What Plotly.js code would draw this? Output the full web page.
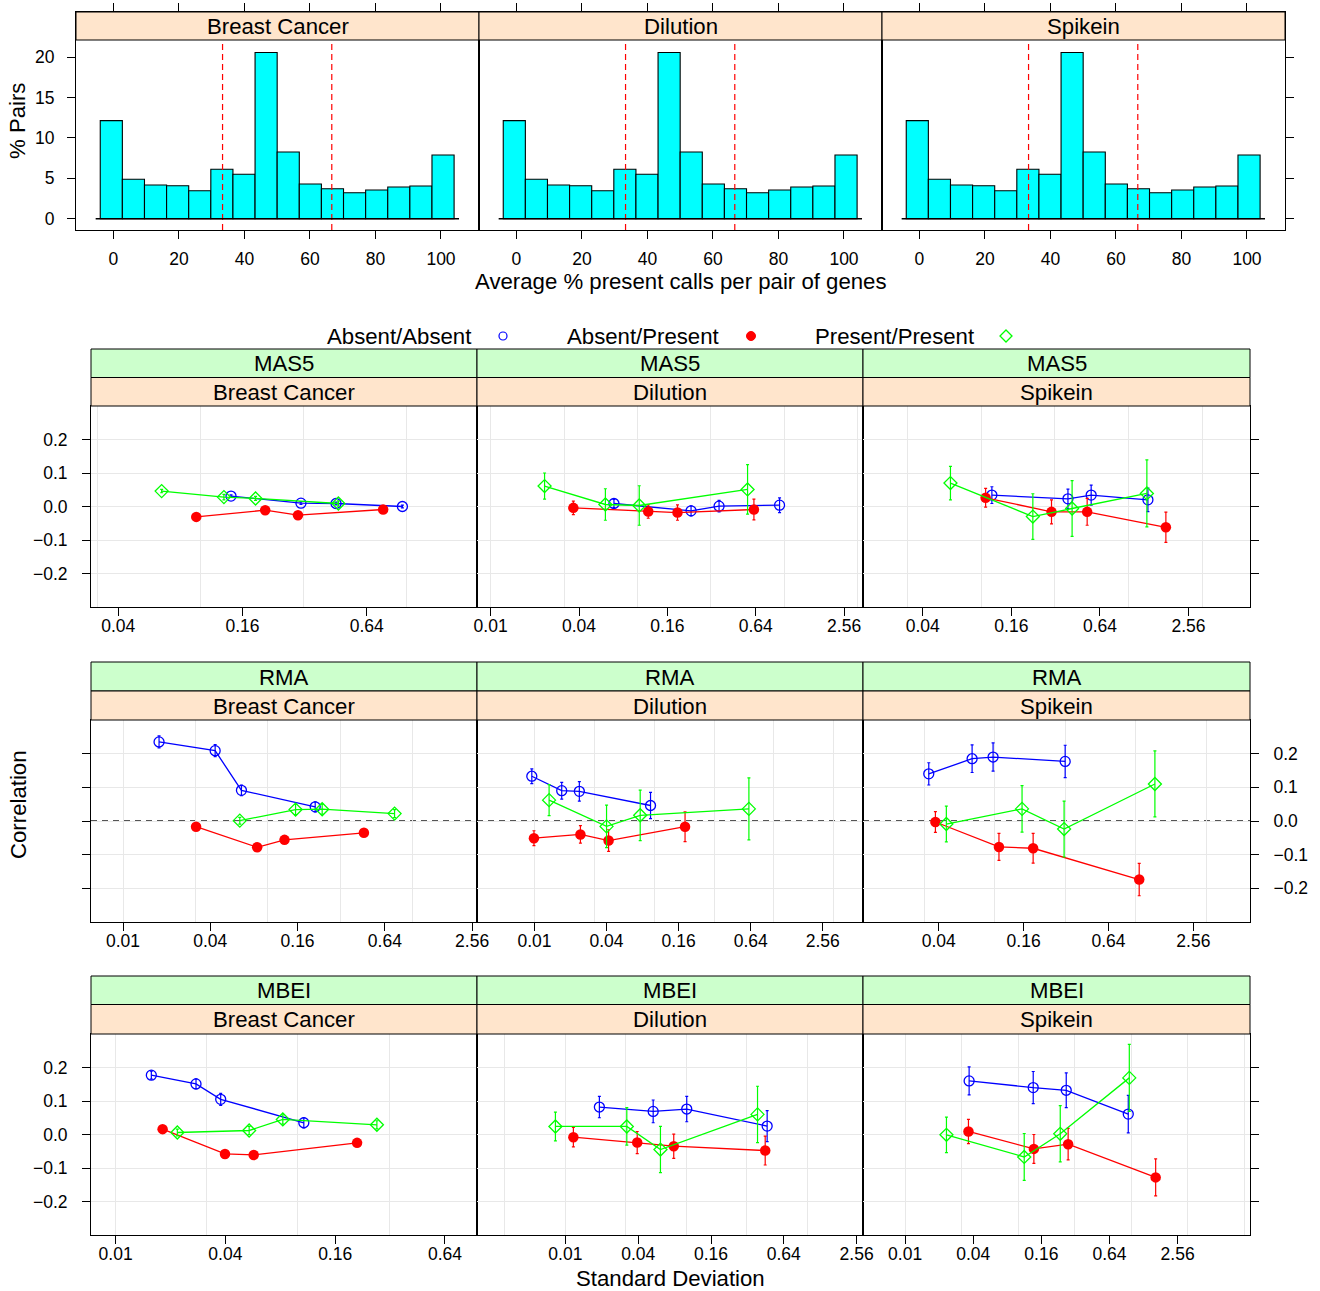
<!DOCTYPE html>
<html><head><meta charset="utf-8">
<script src="https://cdn.plot.ly/plotly-3.0.1.min.js"></script>
<style>html,body{margin:0;padding:0;background:#fff}#chart{width:1320px;height:1291px}</style>
</head><body><div id="chart"></div>
<script>
// ---------------- DATA ----------------
const histPct = [12.15, 4.88, 4.17, 4.09, 3.47, 6.12, 5.50, 20.6, 8.26, 4.30, 3.72, 3.22, 3.55, 3.93, 4.05, 7.89];
const histStart = -4, histBinWidth = 6.75;
const histCuts = [33.33, 66.67];
const histXTicks = [0, 20, 40, 60, 80, 100];
const histYTicks = [0, 5, 10, 15, 20];

const datasets = ['Breast Cancer', 'Dilution', 'Spikein'];
const methods = ['MAS5', 'RMA', 'MBEI'];
const groups = ['Absent/Absent', 'Absent/Present', 'Present/Present'];

const corrTicks = [-0.2, -0.1, 0, 0.1, 0.2];
const corrTickText = ['\u22120.2', '\u22120.1', '0.0', '0.1', '0.2'];
const sdTicks = [0.01, 0.04, 0.16, 0.64, 2.56];
const sdTickText = ['0.01', '0.04', '0.16', '0.64', '2.56'];

// MAS5 - Breast Cancer
const mas5BcAASd = [0.1407, 0.307, 0.454, 0.952];
const mas5BcAAR = [0.031, 0.010, 0.009, 0.000];
const mas5BcAAErr = [0.004, 0.004, 0.004, 0.004];
const mas5BcAPSd = [0.0955, 0.206, 0.297, 0.768];
const mas5BcAPR = [-0.031, -0.011, -0.026, -0.009];
const mas5BcAPErr = [0.003, 0.003, 0.003, 0.003];
const mas5BcPPSd = [0.0649, 0.130, 0.185, 0.466];
const mas5BcPPR = [0.046, 0.028, 0.024, 0.009];
const mas5BcPPErr = [0.005, 0.008, 0.006, 0.008];
// MAS5 - Dilution
const mas5DiAASd = [0.0692, 0.232, 0.360, 0.93];
const mas5DiAAR = [0.009, -0.013, 0.001, 0.004];
const mas5DiAAErr = [0.012, 0.015, 0.017, 0.022];
const mas5DiAPSd = [0.0366, 0.1185, 0.1875, 0.622];
const mas5DiAPR = [-0.004, -0.015, -0.018, -0.009];
const mas5DiAPErr = [0.020, 0.020, 0.023, 0.031];
const mas5DiPPSd = [0.0233, 0.0605, 0.1029, 0.563];
const mas5DiPPR = [0.061, 0.006, 0.003, 0.051];
const mas5DiPPErr = [0.039, 0.047, 0.059, 0.074];
// MAS5 - Spikein
const mas5SpAASd = [0.118, 0.388, 0.558, 1.356];
const mas5SpAAR = [0.034, 0.023, 0.034, 0.020];
const mas5SpAAErr = [0.025, 0.029, 0.030, 0.035];
const mas5SpAPSd = [0.107, 0.300, 0.524, 1.796];
const mas5SpAPR = [0.026, -0.016, -0.016, -0.062];
const mas5SpAPErr = [0.028, 0.036, 0.040, 0.045];
const mas5SpPPSd = [0.0617, 0.224, 0.414, 1.334];
const mas5SpPPR = [0.070, -0.030, -0.006, 0.039];
const mas5SpPPErr = [0.050, 0.068, 0.083, 0.100];
// RMA - Breast Cancer
const rmaBcAASd = [0.01772, 0.0432, 0.0656, 0.2117];
const rmaBcAAR = [0.235, 0.209, 0.091, 0.042];
const rmaBcAAErr = [0.018, 0.018, 0.016, 0.015];
const rmaBcAPSd = [0.0319, 0.0842, 0.130, 0.459];
const rmaBcAPR = [-0.017, -0.078, -0.056, -0.035];
const rmaBcAPErr = [0.008, 0.006, 0.006, 0.006];
const rmaBcPPSd = [0.0639, 0.155, 0.2365, 0.747];
const rmaBcPPR = [0.001, 0.034, 0.035, 0.022];
const rmaBcPPErr = [0.010, 0.015, 0.015, 0.012];
// RMA - Dilution
const rmaDiAASd = [0.0095, 0.01689, 0.0237, 0.0932];
const rmaDiAAR = [0.133, 0.090, 0.088, 0.046];
const rmaDiAAErr = [0.022, 0.025, 0.029, 0.039];
const rmaDiAPSd = [0.0099, 0.0242, 0.0416, 0.181];
const rmaDiAPR = [-0.051, -0.040, -0.058, -0.017];
const rmaDiAPErr = [0.022, 0.026, 0.032, 0.044];
const rmaDiPPSd = [0.01325, 0.040, 0.0764, 0.618];
const rmaDiPPR = [0.062, -0.016, 0.017, 0.036];
const rmaDiPPErr = [0.046, 0.063, 0.075, 0.092];
// RMA - Spikein
const rmaSpAASd = [0.034, 0.069, 0.0972, 0.3155];
const rmaSpAAR = [0.140, 0.185, 0.190, 0.177];
const rmaSpAAErr = [0.033, 0.041, 0.042, 0.048];
const rmaSpAPSd = [0.0379, 0.107, 0.187, 1.057];
const rmaSpAPR = [-0.003, -0.077, -0.081, -0.174];
const rmaSpAPErr = [0.031, 0.040, 0.044, 0.048];
const rmaSpPPSd = [0.0453, 0.156, 0.310, 1.366];
const rmaSpPPR = [-0.009, 0.036, -0.024, 0.110];
const rmaSpPPErr = [0.053, 0.069, 0.083, 0.098];
// MBEI - Breast Cancer
const mbeiBcAASd = [0.0157, 0.0276, 0.0377, 0.1077];
const mbeiBcAAR = [0.177, 0.151, 0.105, 0.035];
const mbeiBcAAErr = [0.012, 0.015, 0.018, 0.015];
const mbeiBcAPSd = [0.0181, 0.0398, 0.0572, 0.211];
const mbeiBcAPR = [0.016, -0.058, -0.061, -0.025];
const mbeiBcAPErr = [0.008, 0.006, 0.006, 0.006];
const mbeiBcPPSd = [0.0218, 0.054, 0.0826, 0.271];
const mbeiBcPPR = [0.006, 0.012, 0.045, 0.029];
const mbeiBcPPErr = [0.010, 0.012, 0.014, 0.012];
// MBEI - Dilution
const mbeiDiAASd = [0.0191, 0.0532, 0.1008, 0.466];
const mbeiDiAAR = [0.082, 0.069, 0.076, 0.025];
const mbeiDiAAErr = [0.032, 0.034, 0.038, 0.046];
const mbeiDiAPSd = [0.01164, 0.03925, 0.0787, 0.449];
const mbeiDiAPR = [-0.008, -0.024, -0.035, -0.048];
const mbeiDiAPErr = [0.029, 0.033, 0.036, 0.043];
const mbeiDiPPSd = [0.00827, 0.0322, 0.0611, 0.388];
const mbeiDiPPR = [0.024, 0.024, -0.045, 0.060];
const mbeiDiPPErr = [0.043, 0.056, 0.069, 0.084];
// MBEI - Spikein
const mbeiSpAASd = [0.0368, 0.1356, 0.2655, 0.938];
const mbeiSpAAR = [0.160, 0.140, 0.132, 0.061];
const mbeiSpAAErr = [0.042, 0.048, 0.052, 0.056];
const mbeiSpAPSd = [0.0363, 0.1374, 0.276, 1.638];
const mbeiSpAPR = [0.009, -0.043, -0.029, -0.128];
const mbeiSpAPErr = [0.036, 0.043, 0.047, 0.055];
const mbeiSpPPSd = [0.0232, 0.1129, 0.235, 0.958];
const mbeiSpPPR = [-0.001, -0.067, 0.002, 0.169];
const mbeiSpPPErr = [0.053, 0.070, 0.084, 0.100];

// ---------------- BUILD ----------------
const panelData = [
  [[[mas5BcAASd, mas5BcAAR, mas5BcAAErr], [mas5BcAPSd, mas5BcAPR, mas5BcAPErr], [mas5BcPPSd, mas5BcPPR, mas5BcPPErr]],
   [[mas5DiAASd, mas5DiAAR, mas5DiAAErr], [mas5DiAPSd, mas5DiAPR, mas5DiAPErr], [mas5DiPPSd, mas5DiPPR, mas5DiPPErr]],
   [[mas5SpAASd, mas5SpAAR, mas5SpAAErr], [mas5SpAPSd, mas5SpAPR, mas5SpAPErr], [mas5SpPPSd, mas5SpPPR, mas5SpPPErr]]],
  [[[rmaBcAASd, rmaBcAAR, rmaBcAAErr], [rmaBcAPSd, rmaBcAPR, rmaBcAPErr], [rmaBcPPSd, rmaBcPPR, rmaBcPPErr]],
   [[rmaDiAASd, rmaDiAAR, rmaDiAAErr], [rmaDiAPSd, rmaDiAPR, rmaDiAPErr], [rmaDiPPSd, rmaDiPPR, rmaDiPPErr]],
   [[rmaSpAASd, rmaSpAAR, rmaSpAAErr], [rmaSpAPSd, rmaSpAPR, rmaSpAPErr], [rmaSpPPSd, rmaSpPPR, rmaSpPPErr]]],
  [[[mbeiBcAASd, mbeiBcAAR, mbeiBcAAErr], [mbeiBcAPSd, mbeiBcAPR, mbeiBcAPErr], [mbeiBcPPSd, mbeiBcPPR, mbeiBcPPErr]],
   [[mbeiDiAASd, mbeiDiAAR, mbeiDiAAErr], [mbeiDiAPSd, mbeiDiAPR, mbeiDiAPErr], [mbeiDiPPSd, mbeiDiPPR, mbeiDiPPErr]],
   [[mbeiSpAASd, mbeiSpAAR, mbeiSpAAErr], [mbeiSpAPSd, mbeiSpAPR, mbeiSpAPErr], [mbeiSpPPSd, mbeiSpPPR, mbeiSpPPErr]]]
];

const W = 1320, H = 1291;
const FONT = 'Liberation Sans, Arial, Helvetica, sans-serif';
const BIG = 22.2;
const fx = x => x / W;
const fy = y => 1 - y / H;
const axKey = (l, n) => l + 'axis' + (n === 1 ? '' : n);
const axRef = (l, n) => l + (n === 1 ? '' : n);

const TICKFONT = {family: FONT, size: 17.5, color: '#000'};
const GRIDCOL = '#e8e8e8';
const groupColors = ['#0000ff', '#ff0000', '#00ff00'];
const groupSymbols = ['circle-open', 'circle', 'diamond-open'];
const groupSizes = [10, 10.5, 10];
const sdGrid = [-6, -5, -4, -3, -2, -1, 0, 1, 2].map(k => Math.pow(10, k / 2));

const traces = [];
const layout = {
  width: W, height: H, margin: {l: 0, r: 0, t: 0, b: 0},
  paper_bgcolor: '#ffffff', plot_bgcolor: 'rgba(0,0,0,0)', showlegend: false,
  font: {family: FONT, size: 18, color: '#000'},
  shapes: [], annotations: []
};

function text(t, x, y, size, opts) {
  layout.annotations.push(Object.assign({
    text: t, x: fx(x), y: fy(y), xref: 'paper', yref: 'paper', showarrow: false,
    xanchor: 'center', yanchor: 'middle', font: {family: FONT, size: size, color: '#000'}
  }, opts || {}));
}
function strip(x0, x1, y0, y1, fill, label) {
  layout.shapes.push({type: 'rect', xref: 'paper', yref: 'paper', x0: fx(x0), x1: fx(x1), y0: fy(y1), y1: fy(y0),
    fillcolor: fill, line: {color: '#000', width: 1}, layer: 'above'});
  text(label, (x0 + x1) / 2, (y0 + y1) / 2 + 0.5, BIG);
}

// ---- top histograms ----
const histL = [76, 479, 882], histR = [479, 882, 1285];
const histCenters = histPct.map((_, i) => histStart + histBinWidth * (i + 0.5));
const histEnd = histStart + histBinWidth * histPct.length;
for (let c = 0; c < 3; c++) {
  const n = c + 1;
  traces.push({type: 'bar', x: histCenters, y: histPct, width: histBinWidth,
    marker: {color: '#00ffff', line: {color: '#000', width: 1.1}},
    xaxis: axRef('x', n), yaxis: axRef('y', n), hoverinfo: 'skip'});
  layout[axKey('x', n)] = {domain: [fx(histL[c]), fx(histR[c])], anchor: axRef('y', n),
    range: [-11.4, 111.6], tickmode: 'array', tickvals: histXTicks, ticks: 'outside', ticklen: 8,
    tickcolor: '#000', tickwidth: 1, showline: true, linecolor: '#000', linewidth: 1, mirror: 'ticks',
    showgrid: false, zeroline: false, tickfont: TICKFONT, ticklabelstandoff: 5, fixedrange: true};
  layout[axKey('y', n)] = {domain: [fy(230), fy(12)], anchor: axRef('x', n),
    range: [-1.40, 25.61], tickmode: 'array', tickvals: histYTicks,
    ticks: (c === 1 ? '' : 'outside'), ticklen: 8, tickcolor: '#000', side: (c === 2 ? 'right' : 'left'),
    showticklabels: c === 0, showline: true, linecolor: '#000', linewidth: 1, mirror: true,
    showgrid: false, zeroline: false, tickfont: TICKFONT, ticklabelstandoff: 9, fixedrange: true};
  histCuts.forEach(v => layout.shapes.push({type: 'line', xref: axRef('x', n), yref: 'paper',
    x0: v, x1: v, y0: fy(230), y1: fy(40), line: {color: '#ff0000', width: 1.2, dash: '6px,4px'}}));
  layout.shapes.push({type: 'line', xref: axRef('x', n), yref: axRef('y', n),
    x0: histStart - 1.4, x1: histEnd + 1.5, y0: 0, y1: 0, line: {color: '#000', width: 1.6}});
  strip(histL[c], histR[c], 12, 40, '#ffe5cc', datasets[c]);
}
text('% Pairs', 18, 121, BIG, {textangle: -90});
text('Average % present calls per pair of genes', 681, 281, BIG);

// ---- legend ----
text(groups[0], 473, 336, BIG, {xanchor: 'right'});
text(groups[1], 721, 336, BIG, {xanchor: 'right'});
text(groups[2], 976, 336, BIG, {xanchor: 'right'});
layout.shapes.push({type: 'circle', xref: 'paper', yref: 'paper', x0: fx(499), x1: fx(507), y0: fy(340), y1: fy(332),
  line: {color: groupColors[0], width: 1.2}, fillcolor: 'rgba(0,0,0,0)'});
layout.shapes.push({type: 'circle', xref: 'paper', yref: 'paper', x0: fx(746.5), x1: fx(755.5), y0: fy(340.5), y1: fy(331.5),
  line: {color: groupColors[1], width: 1}, fillcolor: groupColors[1]});
layout.shapes.push({type: 'path', xref: 'paper', yref: 'paper',
  path: `M ${fx(1006)} ${fy(330)} L ${fx(1012)} ${fy(336)} L ${fx(1006)} ${fy(342)} L ${fx(1000)} ${fy(336)} Z`,
  line: {color: groupColors[2], width: 1.3}, fillcolor: 'rgba(0,0,0,0)'});

// ---- correlation panels ----
const colL = [91, 477, 863], colR = [477, 863, 1250];
const rowTop = [406, 720, 1034], rowBot = [607, 922, 1235], greenTop = [349, 662, 976], stripMid = [377.5, 691, 1004.5];
const sdRange = [
  [[-1.530, 0.340], [-2.093, 0.537], [-1.804, 0.826]],
  [[-2.221, 0.442], [-2.480, 0.744], [-1.935, 0.810]],
  [[-2.135, -0.018], [-2.731, 0.461], [-2.372, 1.048]]
];
for (let r = 0; r < 3; r++) {
  for (let c = 0; c < 3; c++) {
    const n = 4 + r * 3 + c;
    const xr = axRef('x', n), yr = axRef('y', n);
    layout[axKey('x', n)] = {type: 'log', domain: [fx(colL[c]), fx(colR[c])], anchor: yr,
      range: sdRange[r][c], tickmode: 'array', tickvals: sdTicks, ticktext: sdTickText,
      ticks: 'outside', ticklen: 8, tickcolor: '#000', showline: true, linecolor: '#000', linewidth: 1, mirror: true,
      showgrid: false, zeroline: false, tickfont: TICKFONT, ticklabelstandoff: -5, fixedrange: true,
      minor: {tickmode: 'array', tickvals: sdGrid, showgrid: true, gridcolor: GRIDCOL, gridwidth: 1, ticks: ''}};
    const labelled = (r !== 1 && c === 0) || (r === 1 && c === 2);
    layout[axKey('y', n)] = {domain: [fy(rowBot[r]), fy(rowTop[r])], anchor: xr,
      range: [-0.3, 0.3], tickmode: 'array', tickvals: corrTicks, ticktext: corrTickText,
      ticks: (c === 1 ? '' : 'outside'), ticklen: 8, tickcolor: '#000', side: (c === 2 ? 'right' : 'left'),
      showticklabels: labelled, showline: true, linecolor: '#000', linewidth: 1, mirror: true,
      showgrid: true, gridcolor: GRIDCOL, gridwidth: 1, zeroline: false, tickfont: TICKFONT,
      ticklabelstandoff: 11, fixedrange: true};
    layout.shapes.push({type: 'line', xref: xr + ' domain', yref: yr, x0: 0, x1: 1, y0: 0, y1: 0, layer: 'below',
      line: {color: r === 1 ? '#555555' : '#000000', width: r === 1 ? 2 : 1, dash: r === 1 ? '6px,5px' : '5px,4px'}});
    for (let g = 0; g < 3; g++) {
      const [sd, rr, err] = panelData[r][c][g];
      traces.push({type: 'scatter', mode: 'lines+markers', x: sd, y: rr, xaxis: xr, yaxis: yr,
        name: groups[g], hoverinfo: 'skip', cliponaxis: false,
        line: {color: groupColors[g], width: 1.3},
        marker: {symbol: groupSymbols[g], size: groupSizes[g], color: groupColors[g],
                 line: {color: groupColors[g], width: g === 1 ? 0 : 1.3}},
        error_y: {type: 'data', array: err, visible: true, color: groupColors[g], thickness: 1.2, width: 1.5}});
    }
    strip(colL[c], colR[c], greenTop[r], stripMid[r], '#ccffcc', methods[r]);
    strip(colL[c], colR[c], stripMid[r], rowTop[r], '#ffe5cc', datasets[c]);
  }
}
text('Correlation', 18, 805, BIG, {textangle: -90});
text('Standard Deviation', 670, 1278, BIG);

Plotly.newPlot('chart', traces, layout, {staticPlot: true, displayModeBar: false});
</script></body></html>
